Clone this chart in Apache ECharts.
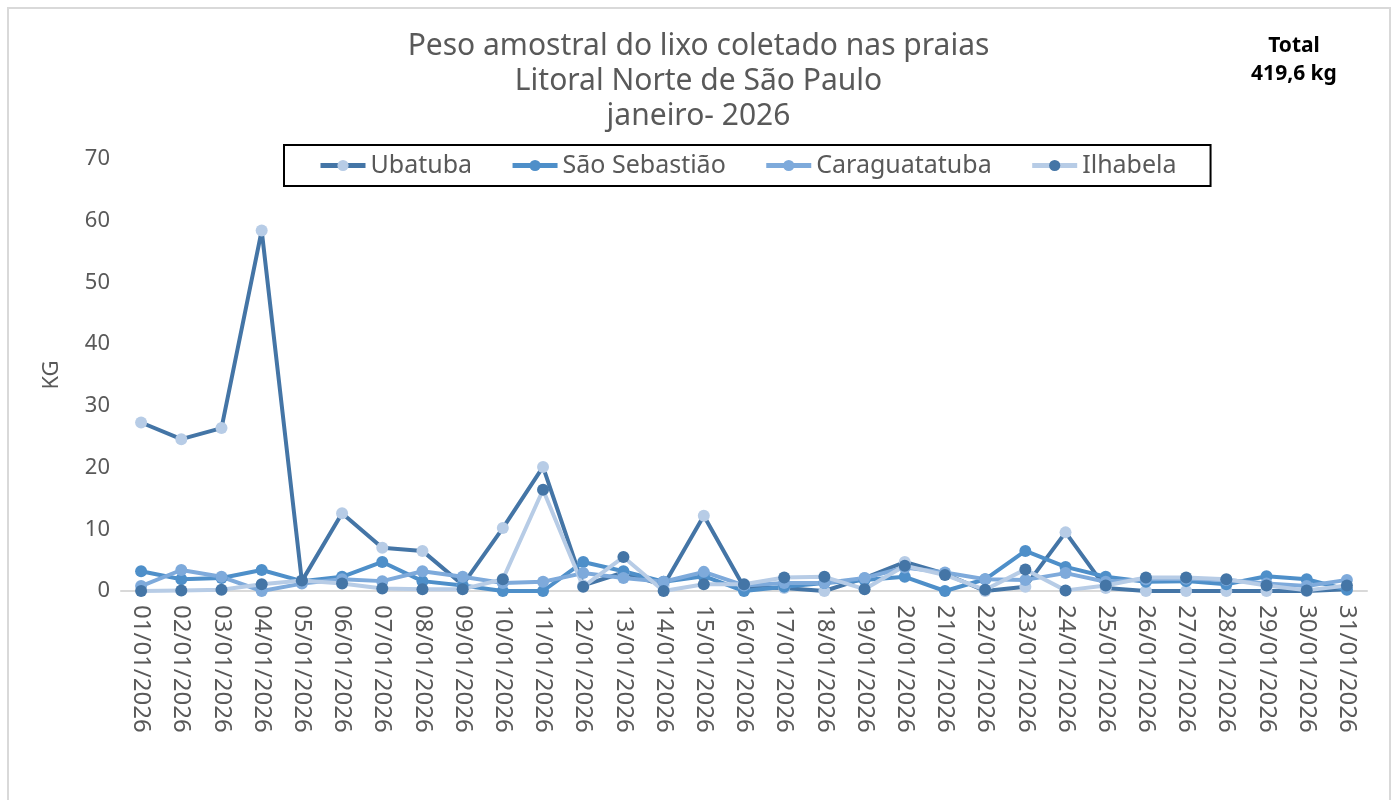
<!DOCTYPE html>
<html>
<head>
<meta charset="utf-8">
<script src="https://cdn.jsdelivr.net/npm/echarts@6/dist/echarts.min.js"></script>
<style>
html, body { margin: 0; padding: 0; background: #fff; }
#chart { width: 1397px; height: 800px; }
</style>
</head>
<body>
<div id="chart"></div>
<script>
// dias do mes
const days = [];
for (let d = 1; d <= 31; d++) {
  days.push((d < 10 ? '0' + d : '' + d) + '/01/2026');
}

// valores (kg)
const ubatuba = [27.3, 24.6, 26.4, 58.4, 1.6, 12.6, 7.0, 6.5, 1.0, 10.2, 20.1, 0.9, 3.0, 0.9, 12.2, 0.6,
  0.5, 0, 2.1, 4.7, 2.8, 0, 0.7, 9.5, 0.5, 0, 0, 0, 0, 0, 0.3];
const saoSebastiao = [3.2, 1.9, 2.1, 3.4, 1.6, 2.3, 4.7, 1.6, 0.9, 0, 0, 4.7, 3.2, 1.5, 2.4, 0,
  0.7, 1.3, 1.8, 2.3, 0, 1.9, 6.5, 3.9, 2.3, 1.5, 1.6, 1.1, 2.4, 1.9, 0.2];
const caraguatatuba = [0.8, 3.4, 2.3, 0, 1.2, 1.9, 1.6, 3.2, 2.3, 1.3, 1.5, 2.9, 2.1, 1.5, 3.1, 0.9,
  1.3, 1.3, 2.1, 3.8, 3.0, 1.9, 1.8, 2.9, 1.5, 1.9, 2.0, 1.8, 1.2, 0.8, 1.8];
const ilhabela = [0, 0.1, 0.2, 1.1, 1.7, 1.2, 0.4, 0.3, 0.3, 1.9, 16.4, 0.7, 5.5, 0, 1.1, 1.1,
  2.2, 2.3, 0.3, 4.1, 2.6, 0.2, 3.5, 0.1, 0.9, 2.2, 2.2, 1.9, 0.9, 0.1, 0.9];

const yTicks = { min: 0, max: 70, step: 10 };

const gray = '#595959';
const font = 'Noto Sans';

function serie(name, data, lineColor, markColor) {
  return {
    name: name,
    type: 'line',
    data: data,
    symbol: 'circle',
    symbolSize: 12,
    lineStyle: { color: lineColor, width: 4 },
    itemStyle: { color: markColor },
    emphasis: { disabled: true }
  };
}

const myChart = echarts.init(document.getElementById('chart'));
const option = {
  animation: false,
  textStyle: { fontFamily: font },
  title: {
    text: 'Peso amostral do lixo coletado nas praias\nLitoral Norte de São Paulo\njaneiro- 2026',
    left: 'center',
    top: 24,
    textStyle: { fontSize: 30, fontWeight: 'normal', color: gray, lineHeight: 35, fontFamily: font }
  },
  graphic: [
    {
      type: 'rect',
      shape: { x: 8, y: 8, width: 1382, height: 800 },
      style: { fill: 'none', stroke: '#d9d9d9', lineWidth: 2 },
      silent: true
    },
    {
      type: 'text',
      x: 1294,
      y: 32,
      style: {
        text: 'Total\n419,6 kg',
        fontSize: 21,
        fontWeight: 'bold',
        fill: '#000',
        align: 'center',
        lineHeight: 28,
        fontFamily: font
      }
    }
  ],
  legend: {
    left: 284,
    top: 145,
    padding: [8, 34],
    itemWidth: 45,
    itemHeight: 14,
    itemGap: 38,
    borderColor: '#000',
    borderWidth: 2,
    lineStyle: { width: 5 },
    textStyle: { fontSize: 25, color: gray, fontFamily: font },
    data: ['Ubatuba', 'São Sebastião', 'Caraguatatuba', 'Ilhabela']
  },
  grid: { left: 121, right: 30, top: 159, bottom: 209 },
  xAxis: {
    type: 'category',
    data: days,
    boundaryGap: true,
    axisLine: { lineStyle: { color: '#d9d9d9', width: 2 } },
    axisTick: { show: false },
    axisLabel: { rotate: -90, interval: 0, margin: 14, fontSize: 24, color: gray, fontFamily: font }
  },
  yAxis: {
    type: 'value',
    min: yTicks.min,
    max: yTicks.max,
    interval: yTicks.step,
    name: 'KG',
    nameLocation: 'middle',
    nameRotate: 90,
    nameGap: 58,
    nameTextStyle: { fontSize: 22, color: gray, fontFamily: font },
    axisLine: { show: false },
    axisTick: { show: false },
    splitLine: { show: false },
    axisLabel: { fontSize: 22, color: gray, margin: 11, fontFamily: font }
  },
  series: [
    serie('Ubatuba', ubatuba, '#4475a6', '#b7cce6'),
    serie('São Sebastião', saoSebastiao, '#4e8fc9', '#4e8fc9'),
    serie('Caraguatatuba', caraguatatuba, '#7eaadb', '#7eaadb'),
    serie('Ilhabela', ilhabela, '#b7cce6', '#4475a6')
  ]
};
myChart.setOption(option);
window.addEventListener('resize', function () {
  myChart.resize();
});
</script>
</body>
</html>
